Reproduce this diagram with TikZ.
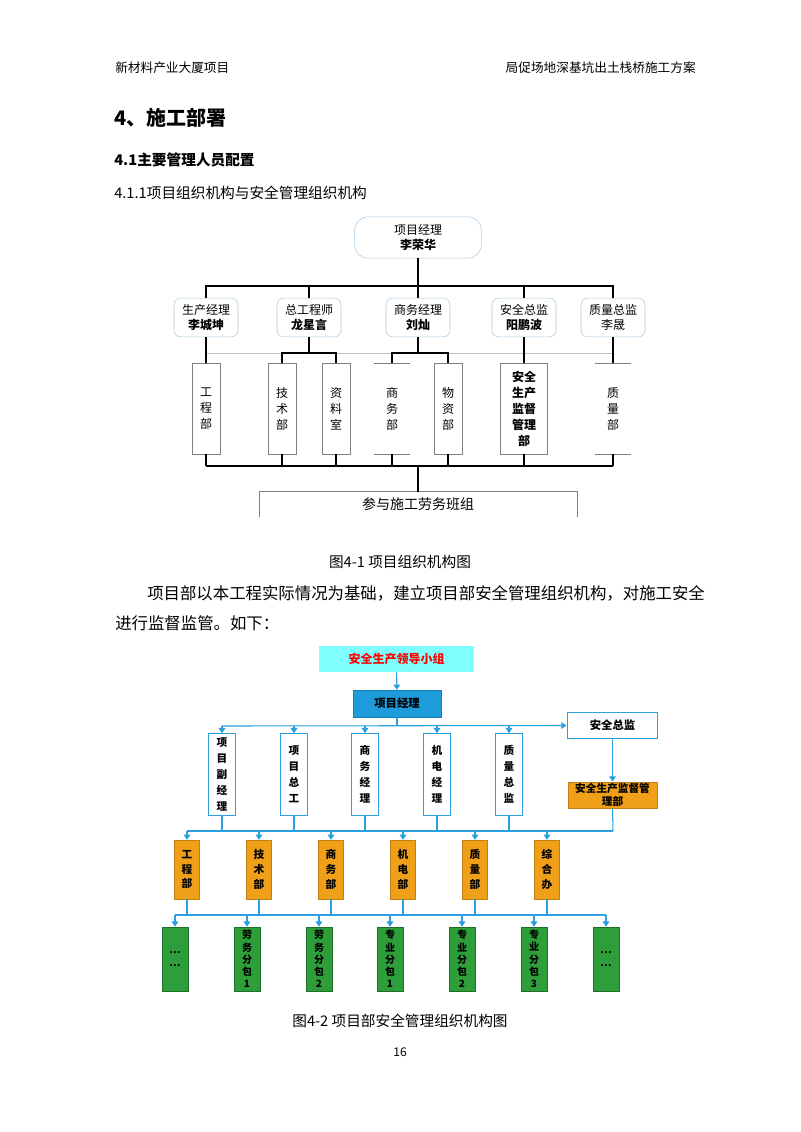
\documentclass[tikz,border=0pt]{standalone}
\usepackage{fontspec}
\setmainfont{Noto Sans CJK SC}
\usetikzlibrary{arrows.meta}
\definecolor{lb}{HTML}{A9CBE0}
\definecolor{ln}{HTML}{2B9FE0}
\definecolor{cy}{HTML}{80FFFF}
\definecolor{bl}{HTML}{1E9BDB}
\definecolor{og}{HTML}{F0A018}
\definecolor{gr}{HTML}{2E9E3A}
\begin{document}
\begin{tikzpicture}[x=0.75pt,y=-0.75pt,
  txt/.style={anchor=west,inner sep=0pt},
  mgr/.style={draw=lb,rounded corners=5pt,minimum width=48pt,minimum height=29pt,align=center,font=\fontsize{9}{11}\selectfont,inner sep=1pt},
  dep/.style={draw=gray,minimum width=21pt,minimum height=68pt,align=center,font=\fontsize{9}{12}\selectfont,inner sep=1pt},
  dopen/.style={minimum width=21pt,minimum height=68pt,align=center,font=\fontsize{9}{12}\selectfont,inner sep=1pt},
  bk/.style={draw=black,line width=0.8pt},
  cl/.style={draw=ln,line width=0.8pt},
  ar/.style={cl,-{Triangle[width=5pt,length=4pt]}},
  wb/.style={draw=ln,fill=white,line width=0.8pt,minimum width=20pt,minimum height=61pt,align=center,font=\bfseries\fontsize{8}{12}\selectfont,inner sep=1pt},
  ob/.style={draw=og!80!black,fill=og,minimum width=19pt,minimum height=44pt,align=center,font=\bfseries\fontsize{8}{11}\selectfont,inner sep=1pt},
  gb/.style={draw=gr!70!black,fill=gr,minimum width=19.5pt,minimum height=48pt,align=center,font=\bfseries\fontsize{7.5}{9.2}\selectfont,inner sep=0.5pt}]
\useasboundingbox (0,0) rectangle (800,1132);
\fill[white] (0,0) rectangle (800,1132);
% page texts
\node[txt,font=\fontsize{9.5}{11}\selectfont] (h1) at (115,68) {新材料产业大厦项目};
\node[anchor=east,inner sep=0pt,font=\fontsize{9.5}{11}\selectfont] (h2) at (696,68) {局促场地深基坑出土栈桥施工方案};
\node[txt,font=\bfseries\fontsize{15}{17}\selectfont] (s1) at (114,118) {4、施工部署};
\node[txt,font=\bfseries\fontsize{11}{13}\selectfont] (s2) at (114,160) {4.1主要管理人员配置};
\node[txt,font=\fontsize{11}{13}\selectfont] (s3) at (114,193) {4.1.1项目组织机构与安全管理组织机构};
\node[inner sep=0pt,font=\fontsize{11}{13}\selectfont] (c1) at (400,562) {图4-1\ 项目组织机构图};
\node[txt,font=\fontsize{12.3}{14}\selectfont] (p1) at (147,593) {项目部以本工程实际情况为基础，建立项目部安全管理组织机构，对施工安全};
\node[txt,font=\fontsize{12.3}{14}\selectfont] (p2) at (115,623) {进行监督监管。如下：};
\node[inner sep=0pt,font=\fontsize{11}{13}\selectfont] (c2) at (400,1021) {图4-2\ 项目部安全管理组织机构图};
\node[inner sep=0pt,font=\fontsize{9}{11}\selectfont] (pg) at (400,1052) {16};
% chart 1
\node[mgr,rounded corners=10pt,minimum width=95pt,minimum height=31pt] (pm) at (418,237.5) {项目经理\\\textbf{李荣华}};
\node[mgr] (m1) at (206,317.5) {生产经理\\\textbf{李城坤}};
\node[mgr] (m2) at (309,317.5) {总工程师\\\textbf{龙星言}};
\node[mgr] (m3) at (418,317.5) {商务经理\\\textbf{刘灿}};
\node[mgr] (m4) at (524,317.5) {安全总监\\\textbf{阳鹏波}};
\node[mgr] (m5) at (613,317.5) {质量总监\\李晟};
\node[dep] (d1) at (206,408.5) {工\\程\\部};
\node[dep] (d2) at (282,408.5) {技\\术\\部};
\node[dep] (d3) at (336,408.5) {资\\料\\室};
\node[dopen] (d4) at (392,408.5) {商\\务\\部};
\node[dep] (d5) at (448,408.5) {物\\资\\部};
\node[dep,minimum width=35pt,font=\bfseries\fontsize{9}{12}\selectfont] (d6) at (524,408.5) {安全\\生产\\监督\\管理\\部};
\node[dopen] (d7) at (613,408.5) {质\\量\\部};
\foreach \n in {d4,d7}{\draw[gray] ([xshift=-3pt]\n.north west) -- ([xshift=3pt]\n.north east); \draw[gray] ([xshift=-3pt]\n.south west) -- ([xshift=3pt]\n.south east);}
\node[minimum width=238pt,minimum height=19pt,font=\fontsize{10.5}{12}\selectfont] (bot) at (418,504.5) {参与施工劳务班组};
\draw[gray] (bot.south west) -- (bot.north west) -- (bot.north east) -- (bot.south east);
\coordinate (t1) at (206,286); \coordinate (t2) at (613,286);
\draw[bk] (pm.south) -- (418,286);
\draw[bk] (m1.north) -- (t1) -- (t2) -- (m5.north);
\draw[bk] (m2.north) -- (309,286); \draw[bk] (m4.north) -- (524,286); \draw[bk] (m3.north) -- (418,286);
\draw[lightgray] (206,353) -- (613,353);
\draw[bk] (m1.south) -- (d1.north);
\draw[bk] (m2.south) -- (309,353); \draw[bk] (d2.north) -- (282,353) -- (336,353) -- (d3.north);
\draw[bk] (m3.south) -- (418,353); \draw[bk] (d4.north) -- (392,353) -- (448,353) -- (d5.north);
\draw[bk] (m4.south) -- (d6.north);
\draw[bk] (m5.south) -- (d7.north);
\draw[bk] (206,466) -- (613,466);
\foreach \n/\x in {d1/206,d2/282,d3/336,d4/392,d5/448,d6/524,d7/613}{\draw[bk] (\n.south) -- (\x,466);}
\draw[bk,line width=1.3pt] (418,466) -- (bot.north);
% chart 2
\node[fill=cy,minimum width=116pt,minimum height=19.5pt,text=red,font=\bfseries\fontsize{9}{11}\selectfont] (t) at (396.5,659) {安全生产领导小组};
\node[fill=bl,draw=bl!80!black,minimum width=66pt,minimum height=20pt,font=\bfseries\fontsize{8.5}{10}\selectfont] (pm2) at (397,703.5) {项目经理};
\node[draw=ln,line width=0.8pt,fill=white,minimum width=68pt,minimum height=20pt,font=\bfseries\fontsize{8.5}{10}\selectfont] (sz) at (612.5,725.5) {安全总监};
\node[wb] (r1) at (222,774.5) {项\\目\\副\\经\\理};
\node[wb] (r2) at (294,774.5) {项\\目\\总\\工};
\node[wb] (r3) at (365,774.5) {商\\务\\经\\理};
\node[wb] (r4) at (437,774.5) {机\\电\\经\\理};
\node[wb] (r5) at (509,774.5) {质\\量\\总\\监};
\node[ob,minimum width=67pt,minimum height=19.5pt,font=\bfseries\fontsize{8}{10}\selectfont] (jd) at (612.5,795) {安全生产监督管\\理部};
\node[ob] (o1) at (187,869.5) {工\\程\\部};
\node[ob] (o2) at (259,869.5) {技\\术\\部};
\node[ob] (o3) at (331,869.5) {商\\务\\部};
\node[ob] (o4) at (403,869.5) {机\\电\\部};
\node[ob] (o5) at (475,869.5) {质\\量\\部};
\node[ob] (o6) at (547,869.5) {综\\合\\办};
\node[gb] (g1) at (175,959) {…\\…};
\node[gb] (g2) at (247,959) {劳\\务\\分\\包\\1};
\node[gb] (g3) at (319,959) {劳\\务\\分\\包\\2};
\node[gb] (g4) at (390,959) {专\\业\\分\\包\\1};
\node[gb] (g5) at (462,959) {专\\业\\分\\包\\2};
\node[gb] (g6) at (534,959) {专\\业\\分\\包\\3};
\node[gb] (g7) at (606,959) {…\\…};
\draw[ar] (t) -- (pm2);
\draw[cl] (pm2.south) -- (397,726);
\draw[ar] (222,726) -- (sz.west);
\foreach \n/\x in {r1/222,r2/294,r3/365,r4/437,r5/509}{\draw[ar] (\x,726) -- (\n.north); \draw[cl] (\n.south) -- (\x,831);}
\draw[ar] (sz) -- (jd);
\draw[cl] (187,831) -- (613,831); \draw[cl] (jd.south) -- (613,831);
\foreach \n/\x in {o1/187,o2/259,o3/331,o4/403,o5/475,o6/547}{\draw[ar] (\x,831) -- (\n.north); \draw[cl] (\n.south) -- (\x,915);}
\draw[cl] (175,915) -- (606,915);
\foreach \n/\x in {g1/175,g2/247,g3/319,g4/390,g5/462,g6/534,g7/606}{\draw[ar] (\x,915) -- (\n.north);}
\end{tikzpicture}
\end{document}
